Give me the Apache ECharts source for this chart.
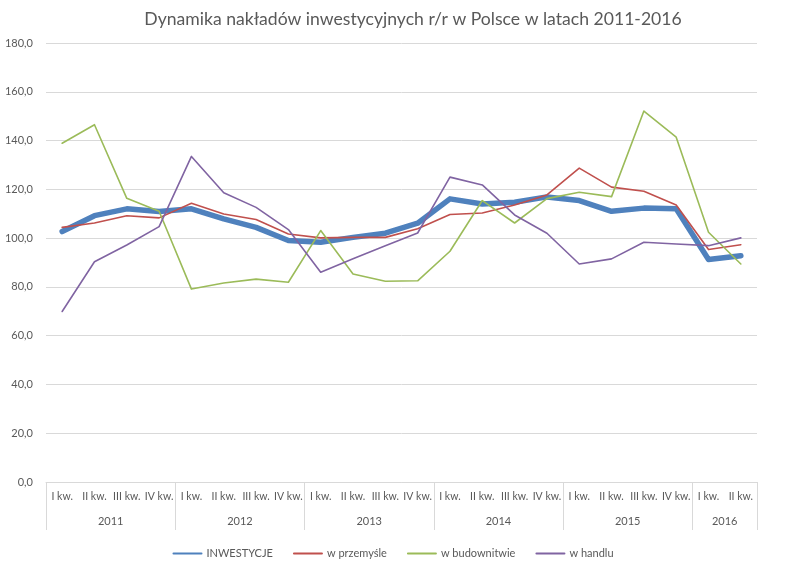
<!DOCTYPE html>
<html>
<head>
<meta charset="utf-8">
<script src="https://cdn.jsdelivr.net/npm/echarts@6/dist/echarts.min.js"></script>
<style>
  html, body { margin: 0; padding: 0; background: #fff; }
  #chart { width: 786px; height: 573px; }
</style>
</head>
<body>
<div id="chart"></div>
<script>
// kwartały i lata (oś X w dwóch poziomach)
var quarters = ['I kw.', 'II kw.', 'III kw.', 'IV kw.',
  'I kw.', 'II kw.', 'III kw.', 'IV kw.',
  'I kw.', 'II kw.', 'III kw.', 'IV kw.',
  'I kw.', 'II kw.', 'III kw.', 'IV kw.',
  'I kw.', 'II kw.', 'III kw.', 'IV kw.',
  'I kw.', 'II kw.'];
var years = ['2011', '2012', '2013', '2014', '2015', '2016'];
var quartersPerYear = [4, 4, 4, 4, 4, 2];

var inwestycje = [102.7, 109.2, 112.0, 110.9, 112.0, 107.9, 104.4, 99.0,
  98.3, 100.3, 102.0, 106.1, 116.1, 114.0, 114.7, 116.9,
  115.4, 111.0, 112.3, 112.0, 91.2, 92.8];
var przemysl = [104.4, 106.2, 109.2, 108.3, 114.3, 109.9, 107.6, 101.7,
  100.1, 100.3, 100.3, 103.8, 109.7, 110.3, 113.6, 117.7,
  128.7, 120.9, 119.2, 113.6, 95.3, 97.3];
var budownictwo = [138.9, 146.5, 116.3, 111.0, 79.1, 81.6, 83.2, 81.9,
  103.1, 85.3, 82.3, 82.5, 94.6, 115.4, 106.2, 116.2,
  118.8, 117.0, 152.1, 141.4, 102.4, 89.4];
var handel = [69.9, 90.3, 97.2, 104.7, 133.5, 118.6, 112.6, 103.5,
  86.0, 91.5, 96.9, 102.1, 125.0, 121.8, 109.5, 102.0,
  89.4, 91.5, 98.3, 97.6, 96.9, 100.1];

var seriesNames = ['INWESTYCJE', 'w przemyśle', 'w budownitwie', 'w handlu'];
var seriesData = [inwestycje, przemysl, budownictwo, handel];
var colors = ['#4F81BD', '#C0504D', '#9BBB59', '#8064A2'];
var widths = [5.5, 1.6, 1.6, 1.6];

// druga oś: pół-kwartały, żeby opisać lata na środku grup i postawić separatory
var halfSlots = [];
var separators = {};
var pos = 0;
separators[0] = true;
for (var i = 0; i < years.length; i++) {
  var span = quartersPerYear[i] * 2;
  for (var k = 0; k < span; k++) halfSlots.push(k === span / 2 ? years[i] : '');
  pos += span;
  separators[pos] = true;
}
halfSlots.push('');

var font = 'Lato, "Open Sans", sans-serif';
var textColor = '#595959';
var gridColor = '#D9D9D9';

var chart = echarts.init(document.getElementById('chart'));
chart.setOption({
  animation: false,
  textStyle: { fontFamily: font },
  title: {
    text: 'Dynamika nakładów inwestycyjnych r/r w Polsce w latach 2011-2016',
    left: 408,
    textAlign: 'center',
    top: 5,
    textStyle: { fontFamily: font, fontSize: 17.6, fontWeight: 'normal', color: textColor }
  },
  legend: {
    bottom: 9,
    left: 'center',
    itemWidth: 28,
    itemHeight: 10,
    itemGap: 20,
    itemStyle: { opacity: 0 },
    textStyle: { fontFamily: font, fontSize: 11, color: textColor },
    data: seriesNames
  },
  grid: { left: 46, right: 29, top: 43, bottom: 91 },
  xAxis: [{
    type: 'category',
    data: quarters,
    boundaryGap: true,
    axisLine: { lineStyle: { color: gridColor } },
    axisTick: { show: false },
    axisLabel: {
      interval: 0, hideOverlap: false, margin: 9,
      fontSize: 10.5, color: textColor, fontFamily: font
    }
  }, {
    type: 'category',
    data: halfSlots,
    position: 'bottom',
    boundaryGap: false,
    axisLine: { show: false },
    axisTick: {
      show: true, length: 48,
      interval: function (idx) { return !!separators[idx]; },
      lineStyle: { color: gridColor }
    },
    axisLabel: {
      interval: 0, hideOverlap: false, margin: 34,
      fontSize: 11, color: textColor, fontFamily: font
    }
  }],
  yAxis: {
    type: 'value',
    min: 0, max: 180, interval: 20,
    axisLine: { show: false },
    axisTick: { show: false },
    splitLine: { lineStyle: { color: gridColor } },
    axisLabel: {
      margin: 13, fontSize: 11, color: textColor, fontFamily: font,
      formatter: function (v) { return v.toFixed(1).replace('.', ','); }
    }
  },
  series: seriesNames.map(function (name, i) {
    return {
      name: name,
      type: 'line',
      xAxisIndex: 0,
      data: seriesData[i],
      symbol: 'none',
      color: colors[i],
      lineStyle: { color: colors[i], width: widths[i], cap: 'round', join: 'round' }
    };
  })
});
</script>
</body>
</html>
